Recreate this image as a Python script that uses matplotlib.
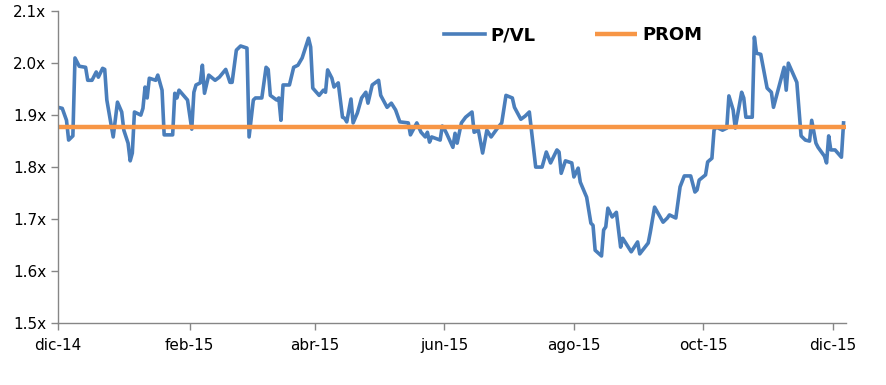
import numpy as np
import pandas as pd
import matplotlib
matplotlib.use("Agg")
import matplotlib.pyplot as plt

# P/VL readings: days since 2014-12-01 and value
days = [0, 2, 4, 5, 7, 8, 10, 13, 14, 16, 18, 19, 21, 22, 23, 26, 28, 30, 31, 33,
        34, 35, 36, 39, 40, 41, 42, 43, 46, 47, 49, 50, 54, 55, 56, 57, 61, 63, 64, 65,
        67, 68, 69, 71, 74, 76, 79, 81, 82, 84, 86, 89, 90, 92, 93, 96, 98, 99, 100, 103,
        104, 105, 106, 109, 111, 113, 115, 118, 119, 120, 123, 125, 126, 127, 129, 130, 132, 134, 135, 136,
        138, 139, 141, 143, 145, 146, 148, 151, 152, 155, 157, 159, 161, 165, 166, 169, 171, 173, 174, 175,
        176, 180, 181, 182, 183, 186, 187, 188, 190, 192, 195, 196, 198, 200, 202, 204, 207, 209, 211, 214,
        215, 218, 220, 222, 225, 228, 230, 232, 235, 236, 237, 239, 242, 243, 245, 246, 249, 251, 252, 253,
        256, 257, 258, 259, 261, 263, 265, 266, 270, 273, 274, 278, 279, 281, 285, 287, 288, 291, 293, 295,
        298, 300, 301, 302, 305, 306, 308, 309, 310, 313, 315, 316, 318, 319, 322, 323, 324, 327, 328, 329,
        331, 334, 336, 337, 342, 343, 344, 348, 350, 352, 354, 355, 357, 358, 361, 362, 363, 364, 366, 369,
        370]
pvl = [1.915, 1.913, 1.890, 1.852, 1.860, 2.010, 1.994, 1.992, 1.967, 1.967, 1.983, 1.973, 1.990, 1.988, 1.929, 1.858, 1.925, 1.906, 1.871, 1.846,
       1.812, 1.827, 1.906, 1.900, 1.913, 1.954, 1.933, 1.971, 1.967, 1.977, 1.948, 1.862, 1.862, 1.942, 1.933, 1.948, 1.929, 1.873, 1.944, 1.958,
       1.962, 1.996, 1.942, 1.977, 1.967, 1.973, 1.988, 1.963, 1.963, 2.025, 2.033, 2.029, 1.858, 1.929, 1.933, 1.933, 1.992, 1.988, 1.938, 1.929,
       1.933, 1.890, 1.958, 1.958, 1.992, 1.996, 2.010, 2.048, 2.031, 1.952, 1.938, 1.948, 1.944, 1.987, 1.971, 1.954, 1.962, 1.896, 1.894, 1.887,
       1.931, 1.885, 1.904, 1.933, 1.944, 1.923, 1.958, 1.967, 1.938, 1.915, 1.923, 1.910, 1.887, 1.885, 1.862, 1.885, 1.867, 1.858, 1.867, 1.848,
       1.858, 1.852, 1.879, 1.873, 1.865, 1.838, 1.865, 1.846, 1.885, 1.896, 1.906, 1.867, 1.871, 1.827, 1.871, 1.858, 1.875, 1.885, 1.938, 1.933,
       1.915, 1.892, 1.898, 1.906, 1.800, 1.800, 1.829, 1.808, 1.833, 1.829, 1.788, 1.812, 1.808, 1.781, 1.798, 1.771, 1.742, 1.692, 1.688, 1.640,
       1.629, 1.679, 1.685, 1.721, 1.704, 1.713, 1.646, 1.663, 1.637, 1.656, 1.633, 1.654, 1.675, 1.723, 1.694, 1.702, 1.708, 1.702, 1.762, 1.783,
       1.783, 1.752, 1.756, 1.775, 1.785, 1.810, 1.817, 1.871, 1.877, 1.871, 1.875, 1.937, 1.910, 1.875, 1.944, 1.933, 1.896, 1.896, 2.050, 2.019,
       2.017, 1.952, 1.944, 1.915, 1.992, 1.948, 2.000, 1.963, 1.860, 1.852, 1.850, 1.890, 1.846, 1.838, 1.821, 1.808, 1.860, 1.833, 1.833, 1.819,
       1.885]
prom = 1.877

tick_dates = ["2014-12-01", "2015-02-01", "2015-04-01", "2015-06-01",
              "2015-08-01", "2015-10-01", "2015-12-01"]
tick_labels = ["dic-14", "feb-15", "abr-15", "jun-15", "ago-15", "oct-15", "dic-15"]
y_ticks = [1.5, 1.6, 1.7, 1.8, 1.9, 2.0, 2.1]

start = pd.Timestamp("2014-12-01")
dates = start + pd.to_timedelta(days, unit="D")

fig = plt.figure(figsize=(8.87, 3.85), dpi=100)
ax = fig.add_axes([0.0654, 0.161, 0.888, 0.81])

ax.plot(dates, pvl, color="#4A7EBB", lw=2.6, label="P/VL", solid_joinstyle="round")
ax.plot([start, start + pd.Timedelta(days=371)], [prom, prom], color="#F79646", lw=3.2,
        label="PROM", solid_capstyle="butt")

ax.set_xlim(start, start + pd.Timedelta(days=371))
ax.set_ylim(1.5, 2.1)
ax.set_yticks(y_ticks)
ax.set_yticklabels([f"{v:.1f}x" for v in y_ticks])
ax.set_xticks(pd.to_datetime(tick_dates))
ax.set_xticklabels(tick_labels)

for s in ["top", "right"]:
    ax.spines[s].set_visible(False)
for s in ["left", "bottom"]:
    ax.spines[s].set_color("#868686")
    ax.spines[s].set_linewidth(1)
ax.tick_params(axis="both", colors="#868686", labelcolor="black", labelsize=11,
               direction="out", length=5, width=1)
ax.tick_params(axis="x", pad=6)

leg = ax.legend(loc="center", bbox_to_anchor=(0.654, 0.923), ncol=2, frameon=False,
                prop={"weight": "bold", "size": 13}, handlelength=2.3,
                columnspacing=3.3, handletextpad=0.3)

fig.savefig("out.png", dpi=100)
